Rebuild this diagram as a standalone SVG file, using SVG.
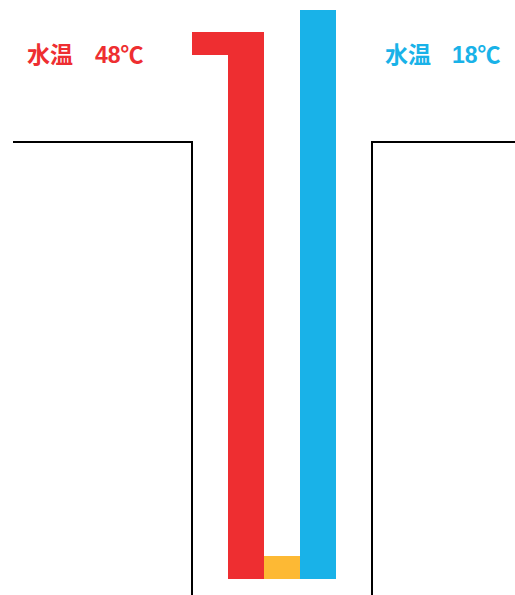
<svg xmlns="http://www.w3.org/2000/svg" width="515" height="595" viewBox="0 0 515 595">
<style>
.wall{fill:none;stroke:#000;stroke-width:2}
.lbl{font-family:"Liberation Sans","Noto Sans CJK JP",sans-serif;font-weight:bold;font-size:23px}
.hot{fill:#ee2e31}
.cold{fill:#19b2e8}
</style>
<rect width="515" height="595" fill="#fff"/>
<g id="walls">
<path class="wall" d="M13,142 H192 V595"/>
<path class="wall" d="M515,142 H372 V595"/>
</g>
<g id="hot-pipe">
<path class="hot" d="M192,32 H264 V579 H228 V55 H192 Z"/>
</g>
<g id="cold-pipe">
<rect class="cold" x="300" y="10" width="36" height="569"/>
</g>
<g id="bottom">
<rect x="264" y="556" width="36" height="23" fill="#fdb934"/>
</g>
<g id="label-hot">
<text class="lbl hot" x="27" y="63">水温</text>
<text class="lbl hot" x="95" y="63">48℃</text>
</g>
<g id="label-cold">
<text class="lbl cold" x="385" y="63">水温</text>
<text class="lbl cold" x="452" y="63">18℃</text>
</g>
</svg>
